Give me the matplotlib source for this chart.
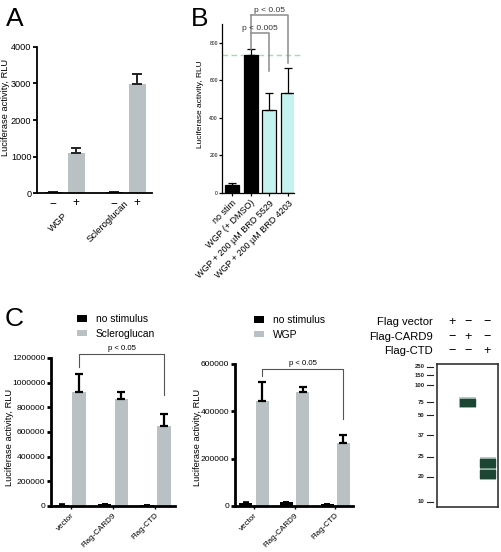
import matplotlib
matplotlib.use('Agg')
import matplotlib.pyplot as plt
from matplotlib.patches import Rectangle
import matplotlib.transforms as mtransforms
import numpy as np

plt.rcParams['font.family'] = ['Liberation Sans', 'DejaVu Sans']

# ---------------- data ----------------
a_groups = ['WGP', 'Scleroglucan']
a_signs = ['\u2212', '+', '\u2212', '+']
a_values = [30, 1100, 30, 2980]
a_errors = [8, 130, 8, 280]

b_labels = ['no stim', 'WGP (+ DMSO)', 'WGP + 200 \u00b5M BRD 5529', 'WGP + 200 \u00b5M BRD 4203']
b_values = [45, 735, 440, 530]
b_errors = [6, 30, 95, 138]
b_reference = 735

c_labels = ['vector', 'Flag-CARD9', 'Flag-CTD']
c1_nostim = [12000, 15000, 8000]
c1_nostim_err = [3000, 3000, 2000]
c1_sclero = [927000, 870000, 652000]
c1_sclero_err = [146000, 57000, 92000]
c2_nostim = [12000, 15000, 8000]
c2_nostim_err = [3000, 3000, 2000]
c2_wgp = [443000, 481000, 268000]
c2_wgp_err = [80000, 21000, 34000]

blot_rows = ['Flag vector', 'Flag-CARD9', 'Flag-CTD']
blot_matrix = [['+', '\u2212', '\u2212'],
               ['\u2212', '+', '\u2212'],
               ['\u2212', '\u2212', '+']]
blot_marker_kda = ['250', '150', '100', '75', '50', '37', '25', '20', '10']
blot_marker_migration = [0.02, 0.077, 0.147, 0.266, 0.357, 0.497, 0.65, 0.79, 0.965]
blot_band_lane = [2, 3, 3]
blot_band_migration = [0.27, 0.69, 0.77]

# ---------------- layout helpers ----------------
W, H = 501, 552
fig = plt.figure(figsize=(W / 100, H / 100), dpi=100)


def px_axes(left, top, right, bottom):
    return fig.add_axes([left / W, 1 - bottom / H, (right - left) / W, (bottom - top) / H])


def ftext(x, y, s, **kw):
    return fig.text(x / W, 1 - y / H, s, **kw)


GRAY = '#b9c1c5'
CYAN = '#c4f2ee'


def style_axes(ax, lw, tick_len, tick_fs):
    for s in ['top', 'right']:
        ax.spines[s].set_visible(False)
    for s in ['left', 'bottom']:
        ax.spines[s].set_linewidth(lw)
    ax.tick_params(axis='both', direction='out', length=tick_len, width=lw, labelsize=tick_fs, pad=1)


# ---------------- Panel A ----------------
axA = px_axes(37, 46.7, 152, 193.3)
a_pos = np.array([0, 1, 2.65, 3.65])
a_colors = ['black', GRAY, 'black', GRAY]
axA.bar(a_pos, a_values, width=0.74, color=a_colors)
axA.errorbar(a_pos, a_values, yerr=[np.zeros(4), a_errors], fmt='none', ecolor='#222222',
             elinewidth=1.4, capsize=3.3, capthick=1.4)
axA.set_xlim(-0.7, 4.3)
axA.set_ylim(0, 4000)
axA.set_yticks([0, 1000, 2000, 3000, 4000])
style_axes(axA, 1.3, 3, 6.6)
axA.set_xticks(a_pos, a_signs)
axA.tick_params(axis='x', length=0, labelsize=8.5, pad=3)
# group label centres (pixel offsets from group centre, pixel y)
a_label_dx = [-6, -18]
a_label_y = [222, 221]
for gi, g in enumerate(a_groups):
    xc = (a_pos[2 * gi] + a_pos[2 * gi + 1]) / 2
    xpix, _ = axA.transData.transform((xc, 0))
    fig.text((xpix + a_label_dx[gi]) / W, 1 - a_label_y[gi] / H, g, rotation=45,
             rotation_mode='anchor', ha='center', va='center', fontsize=6.8)
ftext(5.5, 107, 'Luciferase activity, RLU', rotation=90, ha='center', va='center', fontsize=6.7)
ftext(6, 26, 'A', fontsize=19, va='baseline')

# ---------------- Panel B ----------------
axB = px_axes(222, 24, 294, 193)
b_pos = np.arange(4)
b_colors = ['black', 'black', CYAN, CYAN]
axB.bar(b_pos, b_values, width=0.75, color=b_colors, edgecolor='black', linewidth=0.9)
axB.errorbar(b_pos, b_values, yerr=[np.zeros(4), b_errors], fmt='none', ecolor='black',
             elinewidth=0.9, capsize=2.6, capthick=0.9)
axB.set_xlim(-0.53, 3.32)
axB.set_ylim(0, 900)
axB.set_yticks([0, 200, 400, 600, 800])
style_axes(axB, 0.9, 2, 3.6)
axB.set_xticks(b_pos, b_labels, rotation=45, ha='right', rotation_mode='anchor')
axB.tick_params(axis='x', labelsize=6.5, length=2, pad=2)
axB.plot([-0.53, 3.65], [b_reference, b_reference], color='#9fe0a6', lw=1.0, ls=(0, (4, 2.5)),
         clip_on=False, zorder=0)
bc = '#8c8c8c'
axB.plot([1, 1], [768, 949], color=bc, lw=1.1, clip_on=False)
axB.plot([1, 3, 3], [949, 949, 693], color=bc, lw=1.1, clip_on=False)
axB.plot([1, 2, 2], [853, 853, 650], color=bc, lw=1.1, clip_on=False)
axB.text(1.5, 856, 'p < 0.005', ha='center', va='bottom', fontsize=6, color='#333333')
axB.text(2.0, 952, 'p < 0.05', ha='center', va='bottom', fontsize=6, color='#333333')
ftext(200, 104, 'Luciferase activity, RLU', rotation=90, ha='center', va='center', fontsize=6.0)
ftext(191, 26, 'B', fontsize=19, va='baseline')


# ---------------- Panel C bar charts ----------------
def c_chart(box, xlim, ymax, yticks, nostim, nostim_err, stim, stim_err, stim_label,
            bracket, leg_xy, ylabel_x):
    ax = px_axes(*box)
    pos = np.arange(3)
    off, wd = 0.2, 0.32
    b0 = ax.bar(pos - off, nostim, width=wd, color='black')
    b1 = ax.bar(pos + off, stim, width=wd, color=GRAY)
    ax.errorbar(pos - off, nostim, yerr=[np.zeros(3), nostim_err], fmt='none', ecolor='black',
                elinewidth=1.2, capsize=2, capthick=1.2)
    ax.errorbar(pos + off, stim, yerr=[np.zeros(3), stim_err], fmt='none', ecolor='black',
                elinewidth=1.6, capsize=3, capthick=1.6)
    ax.set_xlim(*xlim)
    ax.set_ylim(0, ymax)
    ax.set_yticks(yticks)
    ax.set_yticklabels([str(v) for v in yticks])
    style_axes(ax, 2.0, 3, 6.1)
    ax.set_xticks(pos, c_labels, rotation=45, ha='right', rotation_mode='anchor')
    ax.tick_params(axis='x', labelsize=5.8, length=2, width=1, pad=2)
    top, ldown, rdown = bracket
    ax.plot([off, off, 2 + off, 2 + off], [ldown, top, top, rdown], color='#555555', lw=0.8,
            clip_on=False)
    ax.text(1 + off, top + ymax * 0.012, 'p < 0.05', ha='center', va='bottom', fontsize=5.6)
    ax.legend([b0, b1], ['no stimulus', stim_label], loc='upper left',
              bbox_to_anchor=(leg_xy[0] / W, 1 - leg_xy[1] / H), bbox_transform=fig.transFigure,
              frameon=False, fontsize=7.4, handlelength=0.95, handleheight=0.65,
              handletextpad=0.9, labelspacing=0.45, borderpad=0, borderaxespad=0)
    ftext(ylabel_x, 437, 'Luciferase activity, RLU', rotation=90, ha='center', va='center',
          fontsize=6.7)
    return ax


c_chart((51, 358, 175, 506), (-0.46, 2.46), 1200000,
        [0, 200000, 400000, 600000, 800000, 1000000, 1200000],
        c1_nostim, c1_nostim_err, c1_sclero, c1_sclero_err, 'Scleroglucan',
        (1234000, 1130000, 902000), (77, 314), 10)
c_chart((235, 364, 353, 506), (-0.47, 2.44), 600000,
        [0, 200000, 400000, 600000],
        c2_nostim, c2_nostim_err, c2_wgp, c2_wgp_err, 'WGP',
        (579000, 549000, 366000), (254, 315), 197)
ftext(5, 326, 'C', fontsize=19, va='baseline')

# ---------------- Western blot ----------------
axW = px_axes(437, 364, 498, 507)
axW.set_xlim(0.5, 3.5)
axW.set_ylim(1, 0)
for s in axW.spines.values():
    s.set_linewidth(1.2)
    s.set_color('#333333')
axW.set_xticks([])
axW.set_yticks([])
tW = mtransforms.blended_transform_factory(axW.transAxes, axW.transData)
for kda, mg in zip(blot_marker_kda, blot_marker_migration):
    axW.plot([-0.17, -0.07], [mg, mg], color='#222222', lw=0.8, transform=tW, clip_on=False)
    axW.text(-0.2, mg, kda, transform=tW, ha='right', va='center', fontsize=4.3,
             fontweight='bold', color='#222222')
band_w = 0.74
band_h = [0.045, 0.058, 0.058]
for ln, mg, hh in zip(blot_band_lane, blot_band_migration, band_h):
    axW.add_patch(Rectangle((ln - band_w / 2 - 0.03, mg - hh / 2 - 0.014), band_w + 0.06,
                            hh + 0.028, facecolor='#5f8a78', edgecolor='none', alpha=0.45))
for ln, mg, hh in zip(blot_band_lane, blot_band_migration, band_h):
    axW.add_patch(Rectangle((ln - band_w / 2, mg - hh / 2), band_w, hh,
                            facecolor='#1d4534', edgecolor='#1d4534', linewidth=1.0,
                            joinstyle='round'))
row_y = [322, 337, 351]
col_x = [452, 468, 487]
for r, name in enumerate(blot_rows):
    ftext(433, row_y[r], name, ha='right', va='center', fontsize=8.1)
    for c in range(3):
        ftext(col_x[c], row_y[r], blot_matrix[r][c], ha='center', va='center', fontsize=9)

fig.savefig('out.png', dpi=100)
